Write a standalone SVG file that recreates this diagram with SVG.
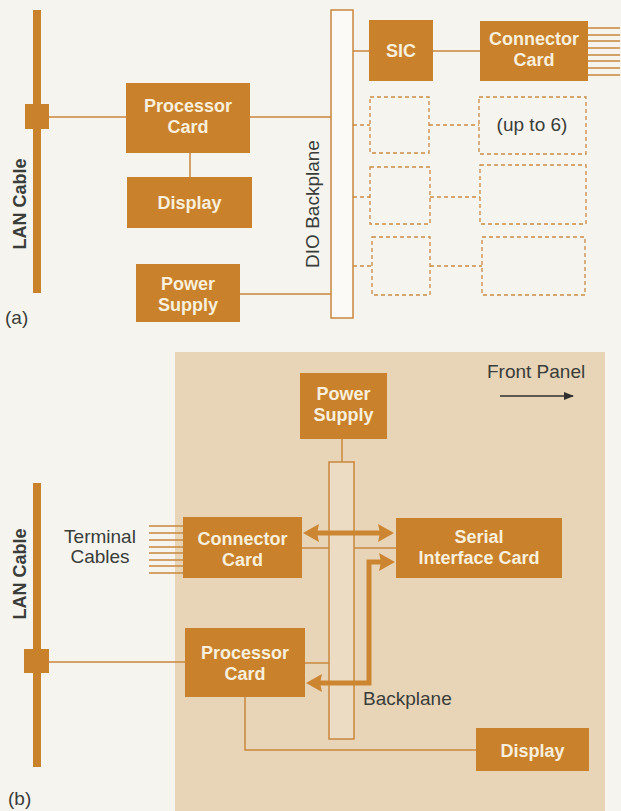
<svg xmlns="http://www.w3.org/2000/svg" width="621" height="811" viewBox="0 0 621 811">
<style>
.box{fill:#c9822b}
.wt{font-family:"Liberation Sans",Arial,sans-serif;font-weight:bold;font-size:18px;fill:#f8efdc;text-anchor:middle}
.dt{font-family:"Liberation Sans",Arial,sans-serif;font-size:19px;fill:#3a3d3a}
.lt{font-family:"Liberation Sans",Arial,sans-serif;font-weight:bold;font-size:18px;fill:#3a3d3a;text-anchor:middle}
.ln{stroke:#c8873c;stroke-width:1.5;fill:none}
.dash{stroke:#c98a45;stroke-width:1.3;fill:none;stroke-dasharray:4 3}
.cable{fill:#c9822b}
.thick{stroke:#cc8530;stroke-width:5;fill:none}
.head{fill:#cc8530}
</style>
<defs>
<marker id="blk" markerWidth="10" markerHeight="8" refX="9" refY="4" orient="auto" markerUnits="userSpaceOnUse">
<path d="M0,0 L10,4 L0,8 Z" fill="#2f2f2f"/>
</marker>
</defs>
<rect x="0" y="0" width="621" height="811" fill="#f5f4ef"/>
<rect x="175" y="352" width="430" height="459" fill="#e8d5b8"/>

<g id="connectors">
<!-- (a) -->
<line class="ln" x1="49" y1="117" x2="126" y2="117"/>
<line class="ln" x1="250" y1="117" x2="331" y2="117"/>
<line class="ln" x1="190" y1="153" x2="190" y2="177"/>
<line class="ln" x1="240" y1="294" x2="331" y2="294"/>
<line class="ln" x1="353" y1="51" x2="369" y2="51"/>
<line class="ln" x1="433" y1="51" x2="480" y2="51"/>
<g class="ln">
<line x1="588" y1="28" x2="620" y2="28"/>
<line x1="588" y1="35" x2="620" y2="35"/>
<line x1="588" y1="41" x2="620" y2="41"/>
<line x1="588" y1="48" x2="620" y2="48"/>
<line x1="588" y1="55" x2="620" y2="55"/>
<line x1="588" y1="61" x2="620" y2="61"/>
<line x1="588" y1="68" x2="620" y2="68"/>
<line x1="588" y1="75" x2="620" y2="75"/>
</g>
<line class="dash" x1="353" y1="125" x2="370" y2="125"/>
<line class="dash" x1="429" y1="125" x2="479" y2="125"/>
<line class="dash" x1="353" y1="197" x2="370" y2="197"/>
<line class="dash" x1="430" y1="197" x2="480" y2="197"/>
<line class="dash" x1="353" y1="266" x2="372" y2="266"/>
<line class="dash" x1="430" y1="266" x2="482" y2="266"/>
<!-- (b) -->
<line class="ln" x1="49" y1="662" x2="185" y2="662"/>
<line class="ln" x1="342" y1="439" x2="342" y2="462"/>
<line class="ln" x1="302" y1="548" x2="329" y2="548"/>
<line class="ln" x1="354" y1="548" x2="396" y2="548"/>
<line class="ln" x1="305" y1="663" x2="329" y2="663"/>
<polyline class="ln" points="245,697 245,750 476,750"/>
<g class="ln">
<line x1="149" y1="526" x2="183" y2="526"/>
<line x1="149" y1="533" x2="183" y2="533"/>
<line x1="149" y1="540" x2="183" y2="540"/>
<line x1="149" y1="547" x2="183" y2="547"/>
<line x1="149" y1="553" x2="183" y2="553"/>
<line x1="149" y1="560" x2="183" y2="560"/>
<line x1="149" y1="566" x2="183" y2="566"/>
<line x1="149" y1="573" x2="183" y2="573"/>
</g>
<line x1="500" y1="396" x2="573" y2="396" stroke="#2f2f2f" stroke-width="1.5" marker-end="url(#blk)"/>
</g>

<g id="lan-cable-a">
<rect class="cable" x="33" y="10" width="8" height="283"/>
<rect class="cable" x="25" y="104" width="24" height="25"/>
<text class="lt" transform="translate(26,204) rotate(-90)">LAN Cable</text>
</g>
<g id="processor-a">
<rect class="box" x="126" y="83" width="124" height="70"/>
<text class="wt" x="188" y="112">Processor</text>
<text class="wt" x="188" y="133">Card</text>
</g>
<g id="display-a">
<rect class="box" x="127" y="177" width="125" height="51"/>
<text class="wt" x="189.5" y="209">Display</text>
</g>
<g id="power-a">
<rect class="box" x="136" y="264" width="104" height="58"/>
<text class="wt" x="188" y="290">Power</text>
<text class="wt" x="188" y="311">Supply</text>
</g>
<g id="dio-backplane">
<rect x="331" y="10" width="22" height="308" fill="#fbfaf6" stroke="#c8873c" stroke-width="1.5"/>
<text class="dt" text-anchor="middle" transform="translate(319,204) rotate(-90)">DIO Backplane</text>
</g>
<g id="sic">
<rect class="box" x="369" y="20" width="64" height="61"/>
<text class="wt" x="401" y="57">SIC</text>
</g>
<g id="connector-a">
<rect class="box" x="480" y="21" width="108" height="60"/>
<text class="wt" x="534" y="45">Connector</text>
<text class="wt" x="534" y="66">Card</text>
</g>
<g id="dashed-slots">
<rect class="dash" x="370" y="97" width="59" height="56"/>
<rect class="dash" x="479" y="97" width="107" height="57"/>
<text class="dt" text-anchor="middle" x="532" y="131">(up to 6)</text>
<rect class="dash" x="370" y="167" width="60" height="57"/>
<rect class="dash" x="480" y="165" width="106" height="59"/>
<rect class="dash" x="372" y="237" width="58" height="58"/>
<rect class="dash" x="482" y="237" width="103" height="58"/>
</g>
<text class="dt" x="5" y="324">(a)</text>

<g id="lan-cable-b">
<rect class="cable" x="33" y="483" width="8" height="284"/>
<rect class="cable" x="24" y="649" width="25" height="24"/>
<text class="lt" transform="translate(26,574) rotate(-90)">LAN Cable</text>
</g>
<g id="terminal-label">
<text class="dt" text-anchor="middle" x="100" y="543">Terminal</text>
<text class="dt" text-anchor="middle" x="100" y="563">Cables</text>
</g>
<g id="power-b">
<rect class="box" x="300" y="373" width="87" height="66"/>
<text class="wt" x="343.5" y="400">Power</text>
<text class="wt" x="343.5" y="421">Supply</text>
</g>
<g id="backplane-b">
<rect x="329" y="462" width="25" height="277" fill="#ecdcc3" stroke="#c8873c" stroke-width="1.5"/>
<text class="dt" x="363" y="705">Backplane</text>
</g>
<g id="connector-b">
<rect class="box" x="183" y="517" width="119" height="61"/>
<text class="wt" x="242.5" y="545">Connector</text>
<text class="wt" x="242.5" y="566">Card</text>
</g>
<g id="serial-card">
<rect class="box" x="396" y="518" width="166" height="60"/>
<text class="wt" x="479" y="543">Serial</text>
<text class="wt" x="479" y="564">Interface Card</text>
</g>
<g id="processor-b">
<rect class="box" x="185" y="628" width="120" height="69"/>
<text class="wt" x="245" y="659">Processor</text>
<text class="wt" x="245" y="680">Card</text>
</g>
<g id="display-b">
<rect class="box" x="476" y="728" width="113" height="43"/>
<text class="wt" x="532.5" y="757">Display</text>
</g>
<g id="bus-arrows">
<line class="thick" x1="316" y1="533" x2="382" y2="533"/>
<polygon class="head" points="303,533 319,524 317,533 319,542"/>
<polygon class="head" points="394,533 378,524 380,533 378,542"/>
<polyline class="thick" points="382,562 369,562 369,683 319,683"/>
<polygon class="head" points="395,562 379,553 381,562 379,571"/>
<polygon class="head" points="306,683 322,674 320,683 322,692"/>
</g>
<g id="front-panel">
<text class="dt" x="487" y="378">Front Panel</text>
</g>
<text class="dt" x="8" y="805">(b)</text>
</svg>
